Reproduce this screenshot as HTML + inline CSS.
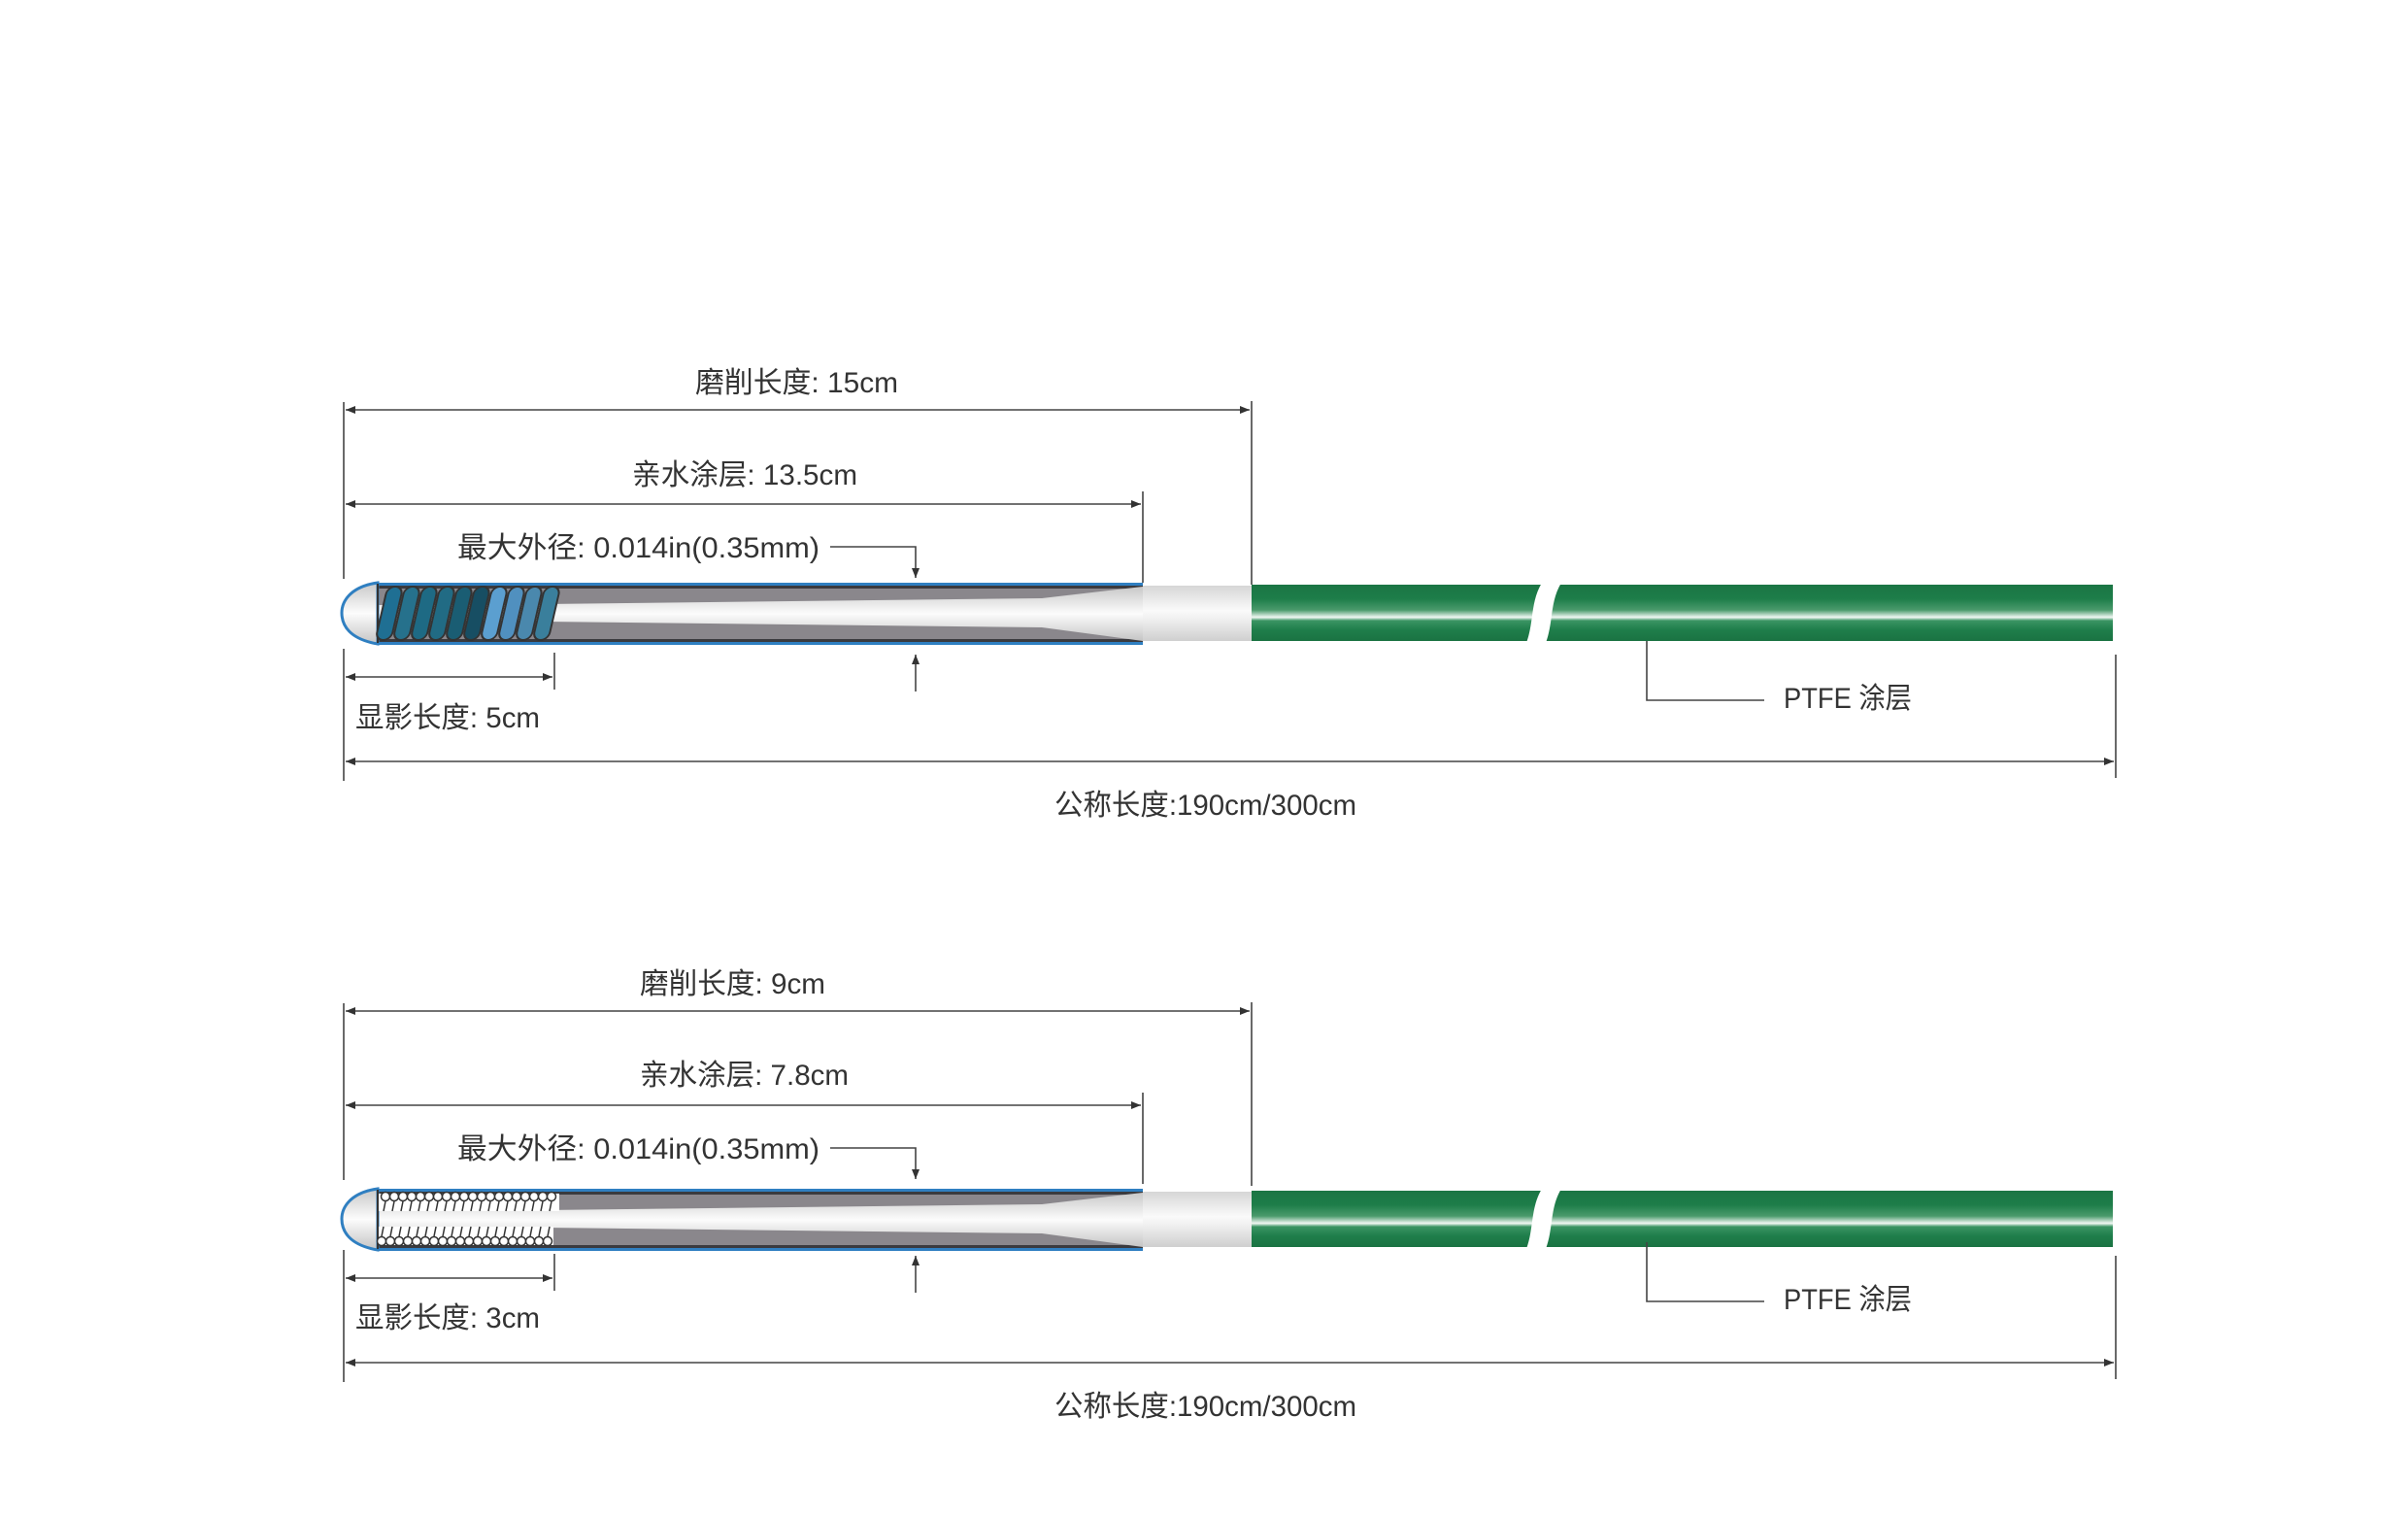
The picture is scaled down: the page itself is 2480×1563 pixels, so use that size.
<!DOCTYPE html>
<html><head><meta charset="utf-8"><style>
html,body{margin:0;padding:0;background:#fff;}
svg{display:block;}
text{font-family:"Liberation Sans","Noto Sans CJK SC",sans-serif;font-size:30px;fill:#333;}
</style></head><body>
<svg width="2480" height="1563" viewBox="0 0 2480 1563" xmlns="http://www.w3.org/2000/svg">
<defs>
<linearGradient id="g" x1="0" y1="0" x2="0" y2="1">
<stop offset="0" stop-color="#1b7544"/><stop offset="0.25" stop-color="#1d7d49"/>
<stop offset="0.45" stop-color="#4a9a6c"/><stop offset="0.58" stop-color="#f2f8f4"/>
<stop offset="0.64" stop-color="#3a9463"/><stop offset="0.8" stop-color="#1f7e4b"/>
<stop offset="1" stop-color="#1a7342"/></linearGradient>
<linearGradient id="w" x1="0" y1="0" x2="0" y2="1">
<stop offset="0" stop-color="#d6d6d6"/><stop offset="0.45" stop-color="#fafafa"/>
<stop offset="0.6" stop-color="#f0f0f0"/><stop offset="1" stop-color="#cfcfcf"/></linearGradient>
<linearGradient id="d" x1="0" y1="0" x2="0" y2="1">
<stop offset="0" stop-color="#c8c8c8"/><stop offset="0.5" stop-color="#fcfcfc"/><stop offset="1" stop-color="#c4c4c4"/></linearGradient>
<marker id="a" viewBox="0 0 10 8" refX="10" refY="4" markerWidth="10" markerHeight="8" markerUnits="userSpaceOnUse" orient="auto-start-reverse"><path d="M0,0L10,4L0,8z" fill="#333"/></marker>
<g id="tube">
 <rect x="1289" y="602" width="887" height="58" fill="url(#g)"/>
 <path d="M1588,600 L1608,600 C1596,620 1600,640 1592,662 L1572,662 C1580,640 1576,620 1588,600 Z" fill="#fff"/>
 <rect x="1177" y="603" width="112" height="57" fill="url(#w)"/>
 <rect x="389" y="600" width="788" height="64" fill="#2f7fc1"/>
 <rect x="389" y="603" width="788" height="58" fill="#3a3a3e"/>
 <rect x="389" y="606" width="788" height="52" fill="#8a878c"/>
 <path d="M389,623 L560,622 L1073,616 L1177,604 L1177,660 L1073,646 L560,640 L389,639 Z" fill="url(#d)"/>
 <path d="M389,600 C360,604 352,620 352,631 C352,644 360,658 389,663 Z" fill="url(#d)" stroke="#2f7fc1" stroke-width="3"/>
 <line x1="389" y1="601" x2="389" y2="662" stroke="#333" stroke-width="2"/>
</g>
<g id="dims">
 <g stroke="#444" stroke-width="1.6" fill="none">
  <line x1="354" y1="414" x2="354" y2="596"/>
  <line x1="354" y1="668" x2="354" y2="804"/>
  <line x1="1289" y1="413" x2="1289" y2="602"/>
  <line x1="1177" y1="506" x2="1177" y2="600"/>
  <line x1="356" y1="422" x2="1287" y2="422" marker-start="url(#a)" marker-end="url(#a)"/>
  <line x1="356" y1="519" x2="1175" y2="519" marker-start="url(#a)" marker-end="url(#a)"/>
  <polyline points="855,563 943,563 943,595" marker-end="url(#a)"/>
  <line x1="943" y1="712" x2="943" y2="674" marker-end="url(#a)"/>
  <line x1="571" y1="672" x2="571" y2="710"/>
  <line x1="356" y1="697" x2="569" y2="697" marker-start="url(#a)" marker-end="url(#a)"/>
  <line x1="2179" y1="674" x2="2179" y2="801"/>
  <line x1="356" y1="784" x2="2177" y2="784" marker-start="url(#a)" marker-end="url(#a)"/>
  <polyline points="1696,660 1696,721 1817,721"/>
 </g>
 <text x="1837" y="729" textLength="132" lengthAdjust="spacingAndGlyphs">PTFE 涂层</text>
 <text x="1086" y="839" textLength="311" lengthAdjust="spacingAndGlyphs">公称长度:190cm/300cm</text>
 <text x="471" y="574" textLength="373" lengthAdjust="spacingAndGlyphs">最大外径: 0.014in(0.35mm)</text>
</g>
</defs>

<use href="#tube"/>
<use href="#dims"/>
<g transform="translate(0,624)"><use href="#tube"/></g>
<g transform="translate(0,619)"><use href="#dims"/></g>

<!-- top coils -->
<g stroke="#333" stroke-width="2" transform="translate(0,631) skewX(-13) translate(0,-631)">
 <rect x="393" y="604" width="16" height="55" rx="8" fill="#1f6f93"/>
 <rect x="411" y="604" width="16" height="55" rx="8" fill="#26718c"/>
 <rect x="429" y="604" width="16" height="55" rx="8" fill="#1e6a84"/>
 <rect x="447" y="604" width="16" height="55" rx="8" fill="#216b84"/>
 <rect x="465" y="604" width="16" height="55" rx="8" fill="#1a5d73"/>
 <rect x="483" y="604" width="16" height="55" rx="8" fill="#174e63"/>
 <rect x="501" y="604" width="16" height="55" rx="8" fill="#5b9fd0"/>
 <rect x="519" y="604" width="16" height="55" rx="8" fill="#5090bf"/>
 <rect x="537" y="604" width="16" height="55" rx="8" fill="#4a88ad"/>
 <rect x="555" y="604" width="16" height="55" rx="8" fill="#3a7f9c"/>
</g>

<!-- bottom coils -->
<rect x="390" y="1229" width="186" height="18" fill="#fff"/>
<rect x="390" y="1263" width="180" height="19" fill="#fff"/>
<g stroke="#333" stroke-width="1.5" fill="#fff">
 <g id="crow">
  <circle cx="397" cy="1232" r="4.5"/><circle cx="406" cy="1232" r="4.5"/><circle cx="415" cy="1232" r="4.5"/><circle cx="424" cy="1232" r="4.5"/><circle cx="433" cy="1232" r="4.5"/><circle cx="442" cy="1232" r="4.5"/><circle cx="451" cy="1232" r="4.5"/><circle cx="460" cy="1232" r="4.5"/><circle cx="469" cy="1232" r="4.5"/><circle cx="478" cy="1232" r="4.5"/><circle cx="487" cy="1232" r="4.5"/><circle cx="496" cy="1232" r="4.5"/><circle cx="505" cy="1232" r="4.5"/><circle cx="514" cy="1232" r="4.5"/><circle cx="523" cy="1232" r="4.5"/><circle cx="532" cy="1232" r="4.5"/><circle cx="541" cy="1232" r="4.5"/><circle cx="550" cy="1232" r="4.5"/><circle cx="559" cy="1232" r="4.5"/><circle cx="568" cy="1232" r="4.5"/>
 </g>
 <use href="#crow" transform="translate(-4,46)"/>
 <path d="M397,1237l-2,10M406,1237l-2,10M415,1237l-2,10M424,1237l-2,10M433,1237l-2,10M442,1237l-2,10M451,1237l-2,10M460,1237l-2,10M469,1237l-2,10M478,1237l-2,10M487,1237l-2,10M496,1237l-2,10M505,1237l-2,10M514,1237l-2,10M523,1237l-2,10M532,1237l-2,10M541,1237l-2,10M550,1237l-2,10M559,1237l-2,10M568,1237l-2,10" fill="none"/>
 <path d="M395,1263l-2,10M404,1263l-2,10M413,1263l-2,10M422,1263l-2,10M431,1263l-2,10M440,1263l-2,10M449,1263l-2,10M458,1263l-2,10M467,1263l-2,10M476,1263l-2,10M485,1263l-2,10M494,1263l-2,10M503,1263l-2,10M512,1263l-2,10M521,1263l-2,10M530,1263l-2,10M539,1263l-2,10M548,1263l-2,10M557,1263l-2,10M566,1263l-2,10" fill="none"/>
</g>

<text x="716" y="404" textLength="209" lengthAdjust="spacingAndGlyphs">磨削长度: 15cm</text>
<text x="651" y="499" textLength="232" lengthAdjust="spacingAndGlyphs">亲水涂层: 13.5cm</text>
<text x="366" y="749" textLength="190" lengthAdjust="spacingAndGlyphs">显影长度: 5cm</text>
<text x="659" y="1023" textLength="191" lengthAdjust="spacingAndGlyphs">磨削长度: 9cm</text>
<text x="659" y="1117" textLength="215" lengthAdjust="spacingAndGlyphs">亲水涂层: 7.8cm</text>
<text x="366" y="1367" textLength="190" lengthAdjust="spacingAndGlyphs">显影长度: 3cm</text>
</svg>
</body></html>
